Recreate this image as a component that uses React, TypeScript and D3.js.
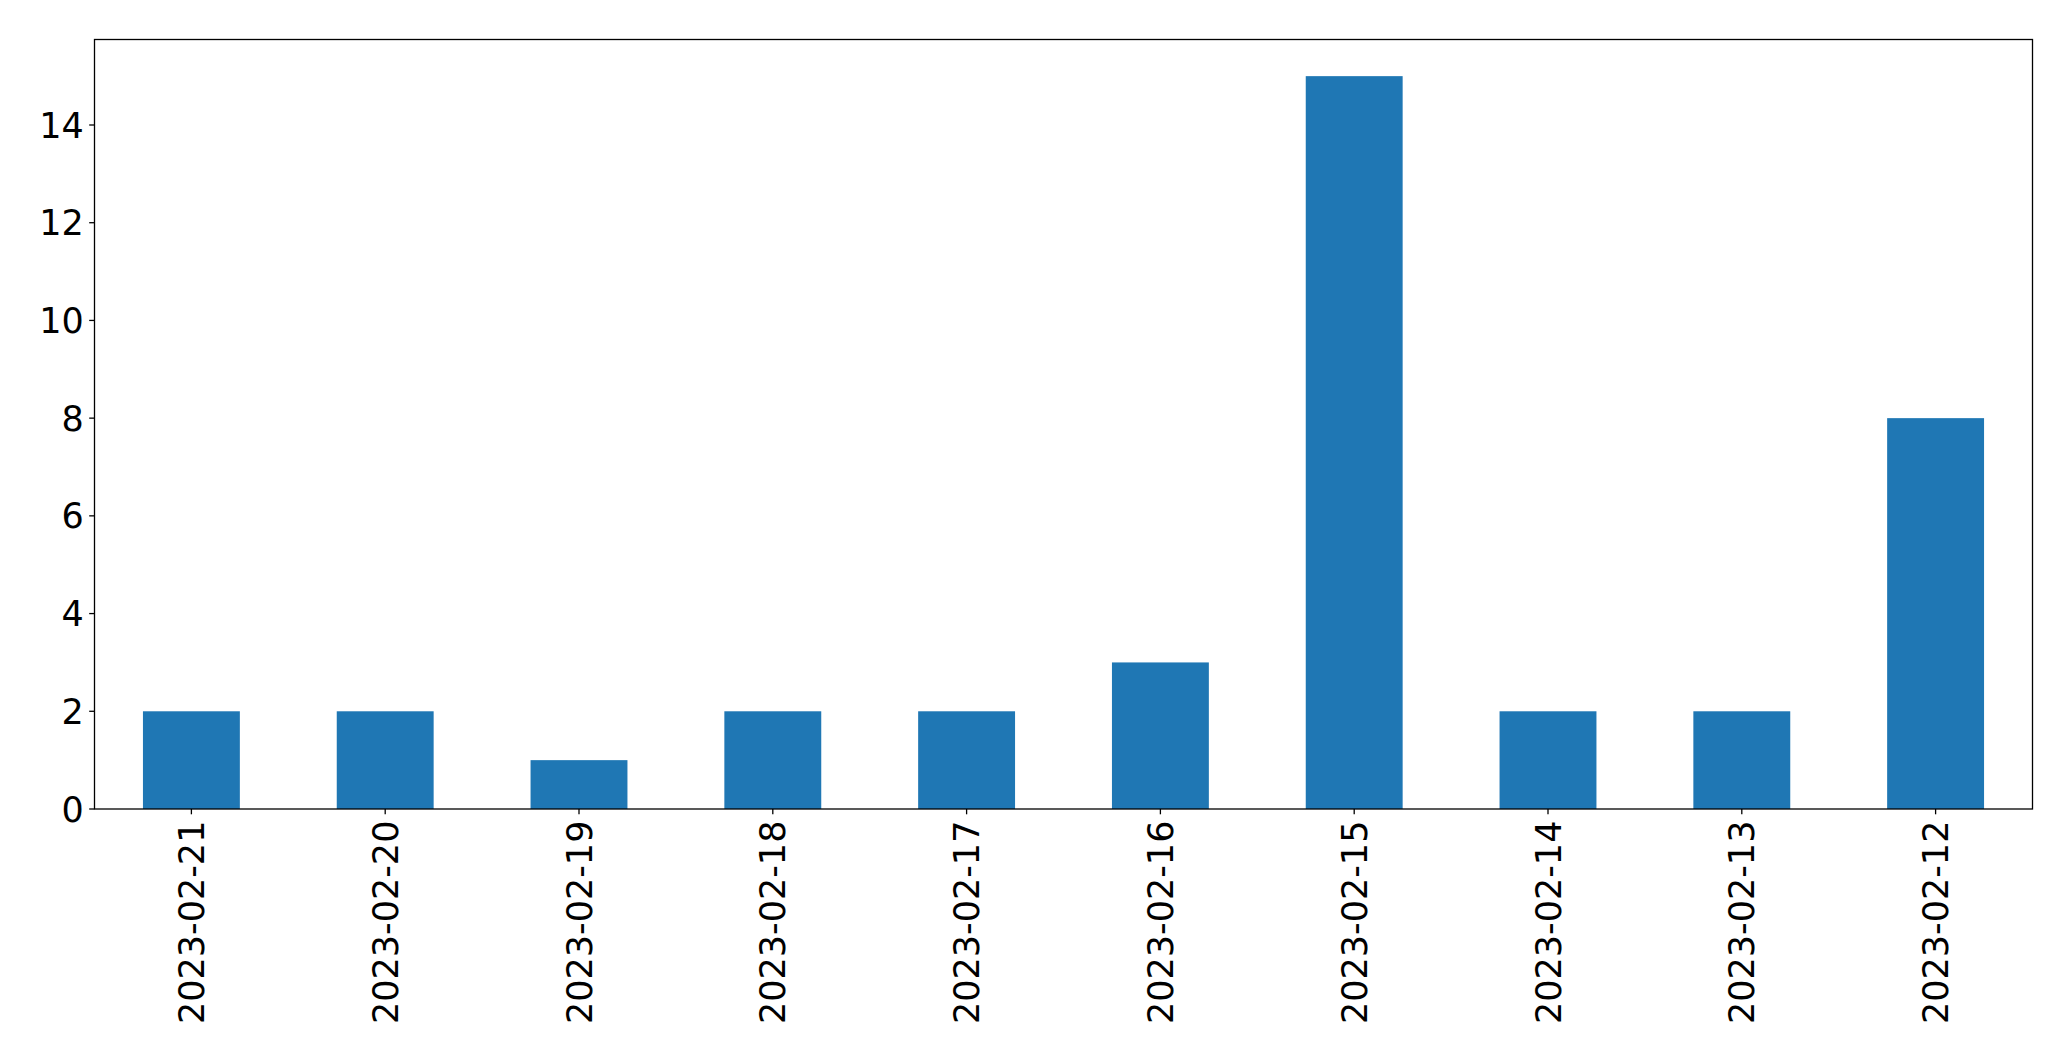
import React from "react";
import * as d3 from "d3";

const categories = [
  "2023-02-21", "2023-02-20", "2023-02-19", "2023-02-18", "2023-02-17",
  "2023-02-16", "2023-02-15", "2023-02-14", "2023-02-13", "2023-02-12",
];
const values = [2, 2, 1, 2, 2, 3, 15, 2, 2, 8];
const yTicks = [0, 2, 4, 6, 8, 10, 12, 14];

const W = 2071, H = 1061;
const left = 94.5, right = 2032.5, top = 39.5, bottom = 809;
const FONT = 35;
const TICK = 5.3;
const PAD = 5.3;

export default function App() {
  const x = d3.scaleLinear().domain([-0.5, categories.length - 0.5]).range([left, right]);
  const y = d3.scaleLinear().domain([0, 15.75]).range([bottom, top]);
  const bw = x(0.25) - x(-0.25);
  return (
    <svg width={W} height={H} style={{ position: "absolute", left: 0, top: 0, background: "#fff" }}
      fontFamily="DejaVu Sans">
      {values.map((v, i) => (
        <rect key={i} x={x(i) - bw / 2} y={y(v)} width={bw} height={y(0) - y(v)} fill="#1f77b4" />
      ))}
      <rect x={left} y={top} width={right - left} height={bottom - top} fill="none" stroke="#000" strokeWidth={1.3} />
      {yTicks.map((t) => (
        <g key={t}>
          <line x1={left - TICK} x2={left} y1={y(t)} y2={y(t)} stroke="#000" strokeWidth={1.3} />
          <text x={left - TICK - PAD} y={y(t)} dy="0.36em" textAnchor="end" fontSize={FONT}>{t}</text>
        </g>
      ))}
      {categories.map((c, i) => (
        <g key={c}>
          <line x1={x(i)} x2={x(i)} y1={bottom} y2={bottom + TICK} stroke="#000" strokeWidth={1.3} />
          <text transform={`translate(${x(i)},${bottom + TICK + PAD + 1}) rotate(-90)`} textAnchor="end"
            dy="0.36em" fontSize={FONT}>{c}</text>
        </g>
      ))}
    </svg>
  );
}
